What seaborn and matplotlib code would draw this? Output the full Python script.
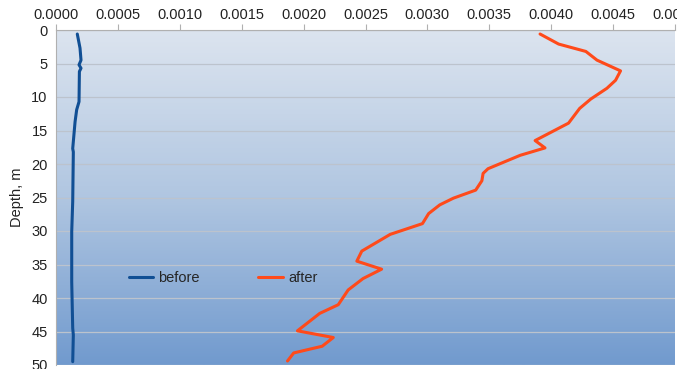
import numpy as np
import pandas as pd
import matplotlib
matplotlib.use('Agg')
import matplotlib.pyplot as plt
import seaborn as sns
from matplotlib.colors import LinearSegmentedColormap

# before (value, depth in m)
before_depth = [0.6, 2.7, 4.5, 5.2, 5.7, 6.2, 10.7, 11.9, 13.7, 17.7, 18.2,
                25.6, 30.1, 37.6, 44.5, 45.5, 49.5]
before_val = [0.000172, 0.000194, 0.000202, 0.000186, 0.000202, 0.000189,
              0.000186, 0.000167, 0.000154, 0.000135, 0.000140, 0.000135,
              0.000127, 0.000127, 0.000135, 0.000140, 0.000135]

# after
after_depth = [0.6, 2.1, 2.5, 3.2, 4.5, 6.1, 7.5, 8.7, 10.3, 11.7, 13.9, 16.5,
               17.6, 18.7, 20.7, 21.4, 22.5, 23.9, 25.1, 26.1, 27.4, 28.9,
               30.5, 33.0, 34.5, 35.7, 37.1, 38.8, 41.0, 42.3, 44.9, 45.9,
               47.2, 48.2, 49.4]
after_val = [0.00391, 0.00406, 0.00414, 0.00428, 0.00437, 0.00456, 0.00452,
             0.00445, 0.00432, 0.00423, 0.00414, 0.00387, 0.00395, 0.00375,
             0.00349, 0.00345, 0.00344, 0.00339, 0.00321, 0.00310, 0.00301,
             0.00296, 0.00270, 0.00247, 0.00243, 0.00263, 0.00248, 0.00236,
             0.00228, 0.00213, 0.00195, 0.00224, 0.00215, 0.00192, 0.00187]

x_ticks = np.arange(0, 0.00501, 0.0005)
y_ticks = list(range(0, 51, 5))

df_before = pd.DataFrame({'value': before_val, 'depth': before_depth})
df_after = pd.DataFrame({'value': after_val, 'depth': after_depth})

sns.set_style('white')
plt.rcParams['font.family'] = ['Liberation Sans', 'DejaVu Sans']

fig, ax = plt.subplots(figsize=(6.77, 3.69), dpi=100)
fig.subplots_adjust(left=56/677, right=675/677, top=1-30/369, bottom=1-365/369)

# gradient background
cmap = LinearSegmentedColormap.from_list('bg', ['#dce4ef', '#b0c6e1', '#719ace'])
grad = np.linspace(0, 1, 256).reshape(-1, 1)
ax.imshow(grad, aspect='auto', cmap=cmap, extent=[0, 1, 0, 1],
          transform=ax.transAxes, zorder=-2)

sns.lineplot(data=df_before, x='value', y='depth', sort=False, estimator=None,
             color='#114f94', linewidth=2.2, label='before', ax=ax)
sns.lineplot(data=df_after, x='value', y='depth', sort=False, estimator=None,
             color='#ff4a1a', linewidth=2.2, label='after', ax=ax)

ax.set_xlim(0, 0.005)
ax.set_ylim(50, 0)
ax.set_xticks(x_ticks)
ax.set_xticklabels(['%.4f' % v for v in x_ticks])
ax.set_yticks(y_ticks)
ax.xaxis.tick_top()
ax.xaxis.set_label_position('top')
ax.set_xlabel('')
ax.set_ylabel('Depth, m', fontsize=10.5, color='#222222', labelpad=5)
ax.tick_params(axis='both', labelsize=10.5, colors='#222222', length=4,
               width=0.8, pad=2)
ax.tick_params(axis='x', color='#b0b0b0')
ax.tick_params(axis='y', color='#b0b0b0')
ax.yaxis.grid(True, color='#bcc3cd', linewidth=0.9)
ax.xaxis.grid(False)
ax.set_axisbelow(True)

for s in ['right', 'bottom']:
    ax.spines[s].set_visible(False)
for s in ['top', 'left']:
    ax.spines[s].set_color('#b0b0b0')
    ax.spines[s].set_linewidth(0.8)

ax.legend(loc='center', bbox_to_anchor=(0.27, 0.26), ncol=2, frameon=False,
          fontsize=10.5, handlelength=1.7, handletextpad=0.35, columnspacing=4.0)

fig.savefig('out.png', dpi=100)
